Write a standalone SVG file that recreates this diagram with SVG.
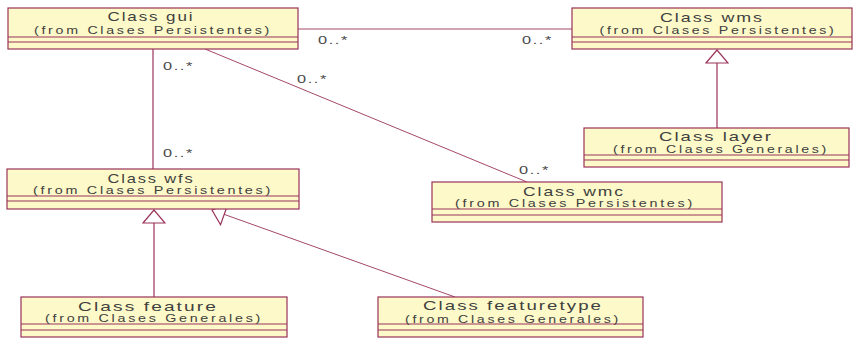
<svg xmlns="http://www.w3.org/2000/svg" width="854" height="339" viewBox="0 0 854 339">
  <style>
    .box { fill: #fdf9c8; stroke: #99335a; stroke-width: 1.2; }
    .sep { stroke: #99335a; stroke-width: 1; fill: none; }
    .link { stroke: #99335a; stroke-width: 1.2; fill: none; }
    .assoc { stroke: #99335a; stroke-width: 0.9; fill: none; }
    .title { font-family: "Liberation Sans", Arial, sans-serif; font-size: 13.5px; letter-spacing: 1.5px; fill: #404040; text-anchor: middle; }
    .sub { font-family: "Liberation Sans", Arial, sans-serif; font-size: 10.5px; letter-spacing: 2px; fill: #404040; text-anchor: middle; }
    .mult { font-family: "Liberation Sans", Arial, sans-serif; font-size: 10px; letter-spacing: 1px; fill: #484848; }
  </style>
  <defs>
    <!-- hollow generalization arrowhead -->
    <marker id="gen" markerUnits="userSpaceOnUse" viewBox="0 0 15 24" markerWidth="15" markerHeight="24" refX="14" refY="12" orient="auto">
      <path d="M1,1 L14,12 L1,23 Z" fill="#ffffff" stroke="#99335a" stroke-width="1.2"/>
    </marker>
  </defs>
  <rect width="854" height="339" fill="#ffffff"/>

  <!-- connectors -->
  <g id="connectors">
    <line class="assoc" x1="298" y1="29" x2="572" y2="29"/>
    <line class="link" x1="153" y1="49" x2="153" y2="169"/>
    <line class="assoc" x1="205" y1="49" x2="527" y2="182"/>
    <line class="link" x1="717" y1="128" x2="717" y2="50" marker-end="url(#gen)"/>
    <line class="link" x1="154" y1="297" x2="154" y2="210" marker-end="url(#gen)"/>
    <line class="assoc" x1="455" y1="297" x2="212" y2="210" marker-end="url(#gen)"/>
    <text class="mult" x="318" y="44" textLength="31" lengthAdjust="spacingAndGlyphs">0..*</text>
    <text class="mult" x="522" y="44" textLength="31" lengthAdjust="spacingAndGlyphs">0..*</text>
    <text class="mult" x="163" y="69.5" textLength="31" lengthAdjust="spacingAndGlyphs">0..*</text>
    <text class="mult" x="297" y="83" textLength="31" lengthAdjust="spacingAndGlyphs">0..*</text>
    <text class="mult" x="163" y="157" textLength="31" lengthAdjust="spacingAndGlyphs">0..*</text>
    <text class="mult" x="519" y="174" textLength="31" lengthAdjust="spacingAndGlyphs">0..*</text>
  </g>

  <g id="gui">
    <rect class="box" x="8" y="8" width="290" height="41"/>
    <line class="sep" x1="8" y1="37" x2="298" y2="37"/>
    <line class="sep" x1="8" y1="42" x2="298" y2="42"/>
    <text class="title" x="151" y="21" textLength="87" lengthAdjust="spacingAndGlyphs">Class gui</text>
    <text class="sub" x="153" y="33.5" textLength="238" lengthAdjust="spacingAndGlyphs">(from Clases Persistentes)</text>
  </g>

  <g id="wms">
    <rect class="box" x="572" y="8" width="280" height="41"/>
    <line class="sep" x1="572" y1="37" x2="852" y2="37"/>
    <line class="sep" x1="572" y1="42" x2="852" y2="42"/>
    <text class="title" x="712" y="21.5" textLength="104" lengthAdjust="spacingAndGlyphs">Class wms</text>
    <text class="sub" x="718" y="33.5" textLength="237" lengthAdjust="spacingAndGlyphs">(from Clases Persistentes)</text>
  </g>

  <g id="layer">
    <rect class="box" x="584" y="128" width="265" height="39"/>
    <line class="sep" x1="584" y1="155" x2="849" y2="155"/>
    <line class="sep" x1="584" y1="160" x2="849" y2="160"/>
    <text class="title" x="716" y="140.5" textLength="114" lengthAdjust="spacingAndGlyphs">Class layer</text>
    <text class="sub" x="721" y="153" textLength="216" lengthAdjust="spacingAndGlyphs">(from Clases Generales)</text>
  </g>

  <g id="wfs">
    <rect class="box" x="7" y="169" width="292" height="40"/>
    <line class="sep" x1="7" y1="196" x2="299" y2="196"/>
    <line class="sep" x1="7" y1="201" x2="299" y2="201"/>
    <text class="title" x="151" y="182.5" textLength="87" lengthAdjust="spacingAndGlyphs">Class wfs</text>
    <text class="sub" x="153" y="194" textLength="240" lengthAdjust="spacingAndGlyphs">(from Clases Persistentes)</text>
  </g>

  <g id="wmc">
    <rect class="box" x="432" y="182" width="290" height="40"/>
    <line class="sep" x1="432" y1="209" x2="722" y2="209"/>
    <line class="sep" x1="432" y1="215" x2="722" y2="215"/>
    <text class="title" x="574" y="195.5" textLength="102" lengthAdjust="spacingAndGlyphs">Class wmc</text>
    <text class="sub" x="575" y="207" textLength="240" lengthAdjust="spacingAndGlyphs">(from Clases Persistentes)</text>
  </g>

  <g id="feature">
    <rect class="box" x="21" y="297" width="266" height="40"/>
    <line class="sep" x1="21" y1="324" x2="287" y2="324"/>
    <line class="sep" x1="21" y1="330" x2="287" y2="330"/>
    <text class="title" x="148" y="310.5" textLength="140" lengthAdjust="spacingAndGlyphs">Class feature</text>
    <text class="sub" x="154" y="322" textLength="218" lengthAdjust="spacingAndGlyphs">(from Clases Generales)</text>
  </g>

  <g id="featuretype">
    <rect class="box" x="378" y="297" width="265" height="40"/>
    <line class="sep" x1="378" y1="324" x2="643" y2="324"/>
    <line class="sep" x1="378" y1="330" x2="643" y2="330"/>
    <text class="title" x="513" y="310" textLength="180" lengthAdjust="spacingAndGlyphs">Class featuretype</text>
    <text class="sub" x="513" y="322.5" textLength="216" lengthAdjust="spacingAndGlyphs">(from Clases Generales)</text>
  </g>
</svg>
